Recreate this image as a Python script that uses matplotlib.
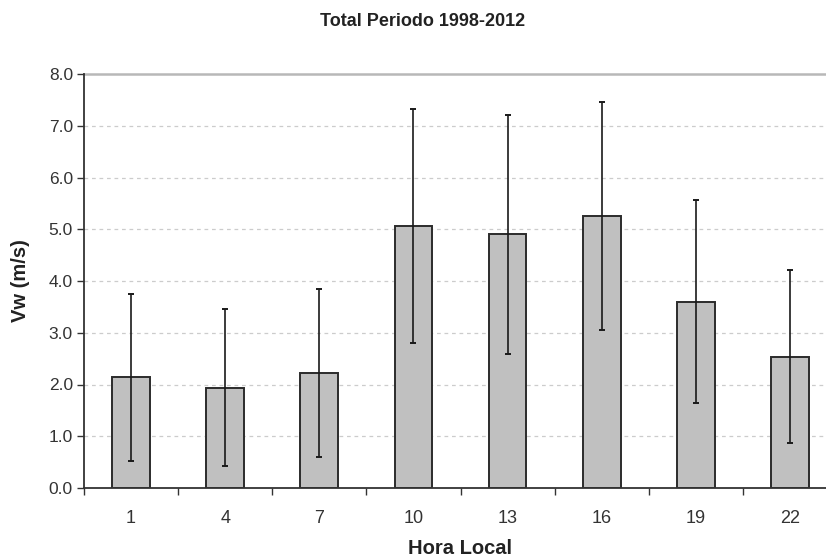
import matplotlib
matplotlib.use("Agg")
import matplotlib.pyplot as plt
import numpy as np

plt.rcParams['font.family'] = ['Liberation Sans', 'DejaVu Sans']

# Mean wind speed by local hour, with standard deviation
hours = ["1", "4", "7", "10", "13", "16", "19", "22"]
vw_mean = [2.14, 1.94, 2.22, 5.07, 4.90, 5.25, 3.60, 2.54]
vw_std = [1.61, 1.52, 1.62, 2.26, 2.31, 2.20, 1.96, 1.68]
y_ticks = [0.0, 1.0, 2.0, 3.0, 4.0, 5.0, 6.0, 7.0, 8.0]

fig = plt.figure(figsize=(8.26, 5.59), dpi=100)
ax = fig.add_axes([84 / 826, 71 / 559, (837 - 84) / 826, (488 - 74) / 559])

x = np.arange(len(hours))
ax.bar(x, vw_mean, width=0.4, color="#c0c0c0", edgecolor="#2b2b2b",
       linewidth=1.4, zorder=2)
ax.errorbar(x, vw_mean, yerr=vw_std, fmt="none", ecolor="#1a1a1a",
            elinewidth=1.2, capsize=2.5, capthick=1.4, zorder=3)

ax.set_xlim(-0.5, len(hours) - 0.5)
ax.set_ylim(0, 8)
ax.set_yticks(y_ticks)
ax.set_yticklabels([f"{v:.1f}" for v in y_ticks], fontsize=12.5, color="#333333")

# Category labels centred on bars, tick marks on category boundaries
ax.set_xticks(x)
ax.set_xticklabels(hours, fontsize=13, color="#333333")
ax.tick_params(axis="x", length=0, pad=16)
ax.set_xticks(np.arange(len(hours) + 1) - 0.5, minor=True)
ax.tick_params(axis="x", which="minor", length=5, width=1, color="#333333",
               direction="out")
ax.tick_params(axis="y", length=5, width=1, color="#333333", direction="out", pad=3)

# Gridlines
for v in y_ticks[1:-1]:
    ax.axhline(v, color="#cccccc", linestyle=(0, (3, 3)), linewidth=0.9, zorder=1)
ax.axhline(8.0, color="#b8b8b8", linewidth=1.8, zorder=1, clip_on=False)

for side in ("top", "right"):
    ax.spines[side].set_visible(False)
for side in ("left", "bottom"):
    ax.spines[side].set_color("#333333")
    ax.spines[side].set_linewidth(1.3)

fig.text(423 / 826, 1 - 22 / 559, "Total Periodo 1998-2012", ha="center",
         va="center", fontsize=13, fontweight="bold", color="#222222")
fig.text(460 / 826, 1 - 549 / 559, "Hora Local", ha="center", va="center",
         fontsize=14.5, fontweight="bold", color="#222222")
fig.text(21 / 826, 1 - 281 / 559, "Vw (m/s)", ha="center", va="center",
         rotation=90, fontsize=14.5, fontweight="bold", color="#222222")

fig.savefig("out.png", dpi=100)
